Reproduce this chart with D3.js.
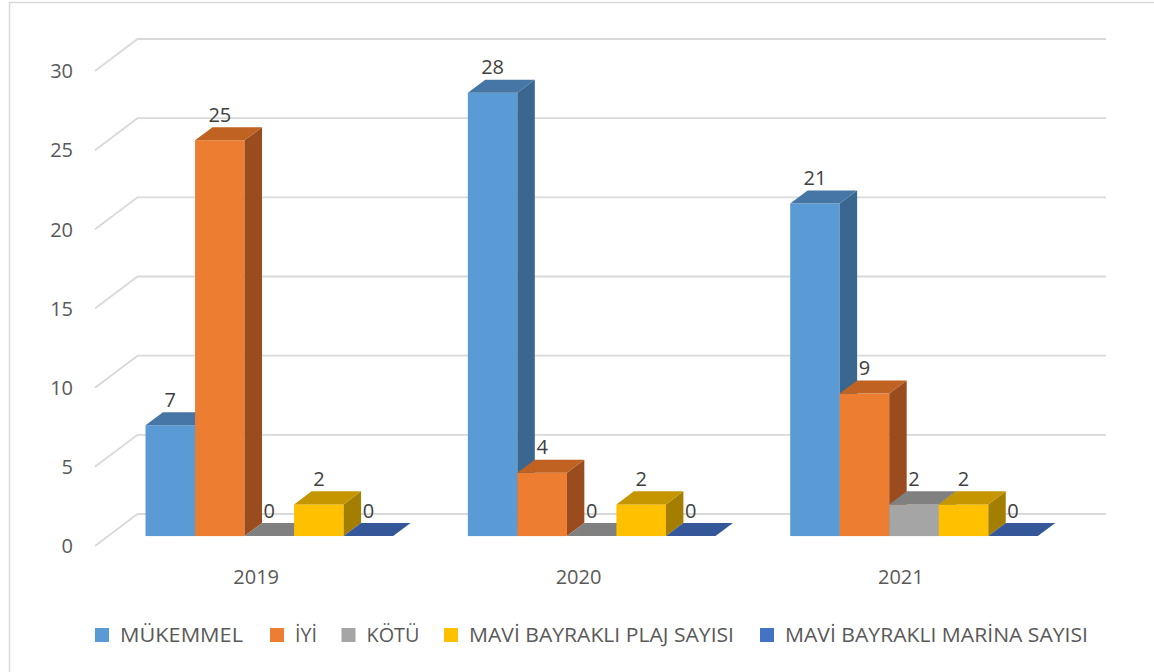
<!DOCTYPE html>
<html><head><meta charset="utf-8">
<script src="https://cdn.jsdelivr.net/npm/d3@7"></script>
<style>body{margin:0;background:#fff}svg{display:block}</style>
</head><body>
<svg id="c" width="1154" height="672"></svg>
<script>
const categories = ["2019", "2020", "2021"];
const seriesNames = ["MÜKEMMEL", "İYİ", "KÖTÜ", "MAVİ BAYRAKLI PLAJ SAYISI", "MAVİ BAYRAKLI MARİNA SAYISI"];
const mukemmel = [7, 28, 21];
const iyi = [25, 4, 9];
const kotu = [0, 0, 2];
const plaj = [2, 2, 2];
const marina = [0, 0, 0];
const yTicks = [0, 5, 10, 15, 20, 25, 30];

const seriesValues = [mukemmel, iyi, kotu, plaj, marina];
const frontCol = ["#5B9BD5", "#ED7D31", "#A5A5A5", "#FFC000", "#4472C4"];
const topCol   = ["#4676A6", "#BF6222", "#808080", "#C59600", "#34579A"];
const sideCol  = ["#3A6790", "#9A4C1E", "#6E6E6E", "#A47E00", "#2C4A85"];

const svg = d3.select("#c");
const font = "'Open Sans', 'Liberation Sans', sans-serif";

// chart border
svg.append("rect").attr("x", 9.5).attr("y", 2.5).attr("width", 1150).attr("height", 680)
  .attr("fill", "none").attr("stroke", "#d9d9d9").attr("stroke-width", 1.5);

// projection
const fx0 = 95, fx1 = 1062, fy0 = 546;         // front floor
const DX = 42.5, DY = -32;                      // full depth vector
const y = d3.scaleLinear().domain([0, 30]).range([0, 475]);
const x = d3.scaleBand().domain(categories).range([fx0, fx1]).padding(0);
const xs = d3.scaleBand().domain(seriesNames).range([0, x.bandwidth()]).paddingInner(0).paddingOuter(0.754);

// gridlines: side wall diagonal + back wall
const grid = svg.append("g").attr("stroke", "#d9d9d9").attr("stroke-width", 1.8).attr("fill", "none");
yTicks.forEach(v => {
  const yf = fy0 - y(v), yb = yf + DY;
  grid.append("path").attr("d", `M${fx0},${yf}L${fx0 + DX},${yb}L${1106},${yb}`);
});
svg.append("g").selectAll("text").data(yTicks).join("text")
  .attr("x", 73).attr("y", d => fy0 - y(d)).attr("dy", "0.36em")
  .attr("text-anchor", "end").attr("font-family", font).attr("font-size", 20)
  .attr("fill", "#595959").text(d => d);

// bars
const z0 = 0.31, z1 = 0.72;
const bx = z0 * DX, by = z0 * DY;
const ddx = (z1 - z0) * DX, ddy = (z1 - z0) * DY;
const bars = svg.append("g");
const labels = [];
categories.forEach((cat, ci) => {
  seriesNames.forEach((s, si) => {
    const v = seriesValues[si][ci];
    const x0 = x(cat) + xs(s) + bx, w = xs.bandwidth();
    const yb = fy0 + by, yt = yb - y(v);
    if (v > 0) {
      bars.append("rect").attr("x", x0).attr("y", yt).attr("width", w).attr("height", yb - yt)
        .attr("fill", frontCol[si]);
      bars.append("path").attr("d", `M${x0 + w},${yt}L${x0 + w + ddx},${yt + ddy}L${x0 + w + ddx},${yb + ddy}L${x0 + w},${yb}Z`)
        .attr("fill", sideCol[si]);
    }
    bars.append("path").attr("d", `M${x0},${yt}L${x0 + w},${yt}L${x0 + w + ddx},${yt + ddy}L${x0 + ddx},${yt + ddy}Z`)
      .attr("fill", topCol[si]);
    labels.push({x: x0 + w / 2, y: yt + ddy - 12.5, v});
  });
});
svg.append("g").selectAll("text").data(labels).join("text")
  .attr("x", d => d.x).attr("y", d => d.y).attr("dy", "0.36em")
  .attr("text-anchor", "middle").attr("font-family", font).attr("font-size", 20)
  .attr("fill", "#404040").text(d => d.v);

// category labels
svg.append("g").selectAll("text").data(categories).join("text")
  .attr("x", d => x(d) + x.bandwidth() / 2).attr("y", 577).attr("dy", "0.36em")
  .attr("text-anchor", "middle").attr("font-family", font).attr("font-size", 20)
  .attr("fill", "#595959").text(d => d);

// legend
const legendX = [95, 270, 341.5, 444, 760];
const legendTextW = [123, 22, 53, 265, 303];
const lg = svg.append("g");
seriesNames.forEach((s, i) => {
  lg.append("rect").attr("x", legendX[i]).attr("y", 628).attr("width", 14).attr("height", 14).attr("fill", frontCol[i]);
  lg.append("text").attr("x", legendX[i] + 25).attr("y", 642)
    .attr("font-family", font).attr("font-size", 20).attr("fill", "#595959")
    .attr("textLength", legendTextW[i]).attr("lengthAdjust", "spacingAndGlyphs").text(s);
});
</script>
</body></html>
